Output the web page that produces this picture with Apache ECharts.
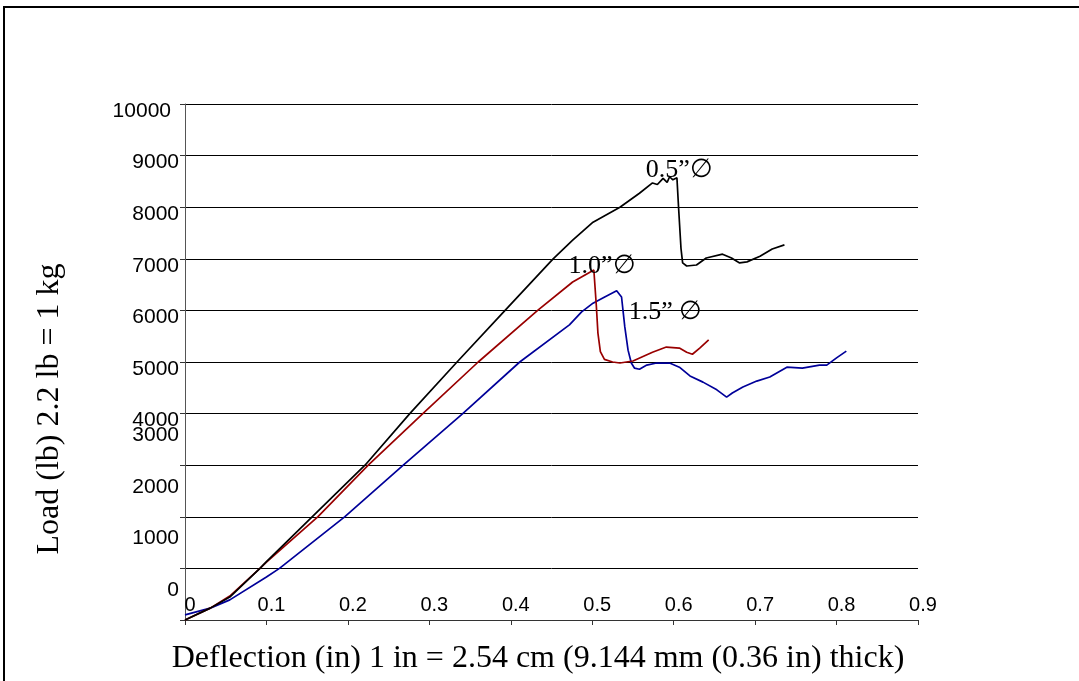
<!DOCTYPE html>
<html>
<head>
<meta charset="utf-8">
<script src="https://cdn.jsdelivr.net/npm/echarts@6/dist/echarts.min.js"></script>
<style>
  html, body { margin: 0; padding: 0; background: #fff; }
  #chart { width: 1079px; height: 681px; }
</style>
</head>
<body>
<div id="chart"></div>
<script>
// deflection (in), load (lb)
const halfInch = [
  [0, 0], [0.031, 230], [0.055, 445], [0.092, 1000], [0.1, 1130], [0.157, 2015],
  [0.221, 3000], [0.276, 4000], [0.334, 5000], [0.393, 6000], [0.452, 7000],
  [0.476, 7360], [0.501, 7710], [0.534, 8000], [0.558, 8270], [0.574, 8470],
  [0.580, 8440], [0.587, 8560], [0.592, 8480], [0.595, 8590], [0.599, 8530],
  [0.604, 8570], [0.606, 8000], [0.609, 7200], [0.611, 6920], [0.616, 6860],
  [0.628, 6880], [0.640, 7015], [0.660, 7090], [0.671, 7015], [0.681, 6920],
  [0.690, 6940], [0.706, 7050], [0.721, 7190], [0.736, 7270]
];
const oneInch = [
  [0, 0], [0.031, 230], [0.055, 465], [0.092, 1000], [0.1, 1120], [0.163, 2000],
  [0.225, 3000], [0.292, 4000], [0.360, 5000], [0.433, 6000], [0.476, 6550],
  [0.502, 6783], [0.505, 6100], [0.507, 5560], [0.510, 5200], [0.515, 5050],
  [0.525, 5000], [0.534, 4980], [0.550, 5020], [0.574, 5190], [0.591, 5290],
  [0.607, 5270], [0.616, 5190], [0.623, 5150], [0.632, 5270], [0.643, 5430]
];
const oneHalfInch = [
  [0, 100], [0.031, 230], [0.055, 390], [0.1, 835], [0.116, 1000], [0.196, 2000],
  [0.268, 3000], [0.341, 4000], [0.411, 5000], [0.472, 5720], [0.487, 5970],
  [0.501, 6140], [0.513, 6240], [0.530, 6380], [0.536, 6260], [0.540, 5680],
  [0.544, 5230], [0.548, 4980], [0.552, 4880], [0.558, 4860], [0.567, 4940],
  [0.579, 4980], [0.595, 4980], [0.607, 4900], [0.620, 4730], [0.636, 4610],
  [0.653, 4460], [0.665, 4320], [0.672, 4400], [0.685, 4515], [0.702, 4630],
  [0.718, 4710], [0.739, 4900], [0.758, 4880], [0.779, 4940], [0.788, 4940],
  [0.800, 5080], [0.812, 5210]
];
const curveNames = ['0.5\u201D\u2205', '1.0\u201D\u2205', '1.5\u201D \u2205'];
const labelSpots = [[0.607, 8720], [0.512, 6860], [0.590, 5970]];

const serif = '"Liberation Serif", "Times New Roman", "DejaVu Serif", serif';
const sans = '"Liberation Sans", Arial, sans-serif';

const chart = echarts.init(document.getElementById('chart'));

function curve(i, data, color) {
  return {
    type: 'line',
    name: curveNames[i],
    data: data,
    symbol: 'none',
    lineStyle: { color: color, width: 1.7 },
    markPoint: {
      silent: true,
      symbol: 'circle',
      symbolSize: 0,
      data: [{ name: curveNames[i], coord: labelSpots[i] }],
      label: {
        show: true,
        position: 'inside',
        formatter: '{b}',
        color: '#000',
        fontFamily: serif,
        fontSize: 26
      }
    }
  };
}

const yRich = {
  top: { fontFamily: sans, fontSize: 21, color: '#000', padding: [14, 0, 0, 0] },
  wide: { fontFamily: sans, fontSize: 21, color: '#000', padding: [14, 8, 0, 0] },
  low: { fontFamily: sans, fontSize: 21, color: '#000', padding: [0, 0, 60, 0] }
};

chart.setOption({
  animation: false,
  backgroundColor: '#fff',
  grid: { left: 185, right: 161, top: 104, bottom: 61 },
  xAxis: {
    type: 'value',
    min: 0,
    max: 0.9,
    interval: 0.1,
    axisLine: { lineStyle: { color: '#333', width: 1 } },
    axisTick: { show: true, length: 5, lineStyle: { color: '#333' } },
    splitLine: { show: false },
    axisLabel: {
      inside: true,
      margin: 5,
      padding: [0, 0, 0, 10],
      color: '#000',
      fontFamily: sans,
      fontSize: 20,
      formatter: v => (v === 0 ? '0' : v.toFixed(1))
    }
  },
  yAxis: {
    type: 'value',
    min: 0,
    max: 10000,
    interval: 1000,
    axisLine: { show: true, lineStyle: { color: '#555', width: 1 } },
    axisTick: { show: true, length: 5, lineStyle: { color: '#333' } },
    splitLine: { lineStyle: { color: '#000', width: 1 } },
    axisLabel: {
      margin: 6,
      formatter: v => {
        if (v === 10000) return '{wide|' + v + '}';
        if (v <= 3000) return '{low|' + v + '}';
        return '{top|' + v + '}';
      },
      rich: yRich
    }
  },
  graphic: [
    {
      type: 'rect',
      silent: true,
      shape: { x: 4, y: 7, width: 1200, height: 800 },
      style: { fill: 'none', stroke: '#000', lineWidth: 2 }
    },
    {
      type: 'text',
      silent: true,
      x: 538,
      y: 659,
      style: {
        text: 'Deflection (in) 1 in = 2.54 cm (9.144 mm (0.36 in) thick)',
        font: '32px ' + serif,
        fill: '#000',
        textAlign: 'center',
        textVerticalAlign: 'middle'
      }
    },
    {
      type: 'text',
      silent: true,
      x: 50,
      y: 409,
      rotation: Math.PI / 2,
      style: {
        text: 'Load (lb) 2.2 lb = 1 kg',
        font: '32px ' + serif,
        fill: '#000',
        textAlign: 'center',
        textVerticalAlign: 'middle'
      }
    }
  ],
  series: [
    curve(2, oneHalfInch, '#000099'),
    curve(1, oneInch, '#990000'),
    curve(0, halfInch, '#000000')
  ]
});
</script>
</body>
</html>
